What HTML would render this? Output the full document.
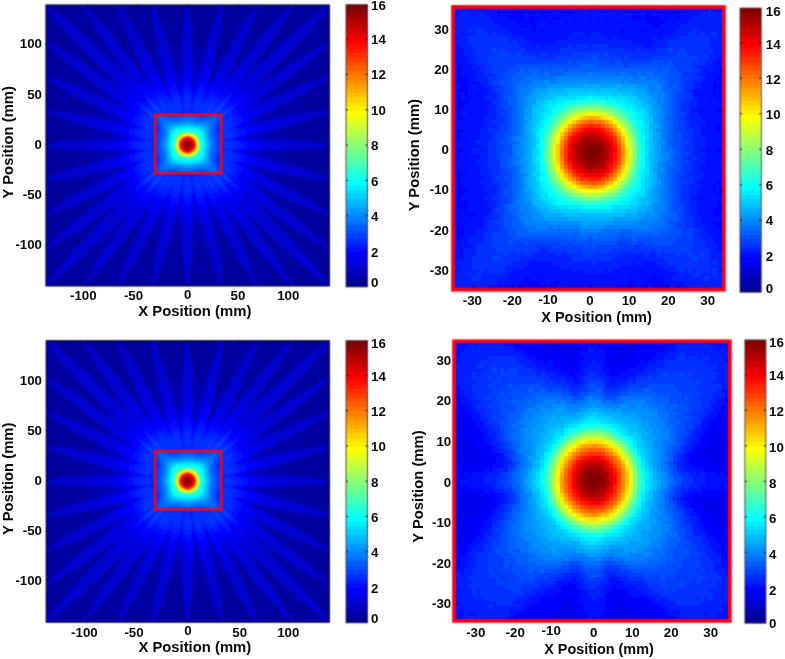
<!DOCTYPE html>
<html lang="en"><head><meta charset="utf-8"><title>Sensitivity maps</title>
<style>html,body{margin:0;padding:0;background:#fff}svg{display:block}text{font-family:"Liberation Sans",Arial,sans-serif;font-weight:bold;fill:#0a0a0a}</style>
</head><body>
<svg width="785" height="659" viewBox="0 0 785 659">
<defs>
<filter id="jet" color-interpolation-filters="sRGB" filterUnits="userSpaceOnUse" x="0" y="0" width="785" height="659"><feComponentTransfer>
<feFuncR type="discrete" tableValues="0 0 0 0 0 0 0 0 0 0 0 0 0 0 0 0 0 0 0 0 0 0 0 0 0.0625 0.125 0.1875 0.25 0.3125 0.375 0.4375 0.5 0.5625 0.625 0.6875 0.75 0.8125 0.875 0.9375 1 1 1 1 1 1 1 1 1 1 1 1 1 1 1 1 1 0.9375 0.875 0.8125 0.75 0.6875 0.625 0.5625 0.5"/>
<feFuncG type="discrete" tableValues="0 0 0 0 0 0 0 0 0.0625 0.125 0.1875 0.25 0.3125 0.375 0.4375 0.5 0.5625 0.625 0.6875 0.75 0.8125 0.875 0.9375 1 1 1 1 1 1 1 1 1 1 1 1 1 1 1 1 1 0.9375 0.875 0.8125 0.75 0.6875 0.625 0.5625 0.5 0.4375 0.375 0.3125 0.25 0.1875 0.125 0.0625 0 0 0 0 0 0 0 0 0"/>
<feFuncB type="discrete" tableValues="0.5625 0.625 0.6875 0.75 0.8125 0.875 0.9375 1 1 1 1 1 1 1 1 1 1 1 1 1 1 1 1 1 0.9375 0.875 0.8125 0.75 0.6875 0.625 0.5625 0.5 0.4375 0.375 0.3125 0.25 0.1875 0.125 0.0625 0 0 0 0 0 0 0 0 0 0 0 0 0 0 0 0 0 0 0 0 0 0 0 0 0"/>
<feFuncA type="linear" slope="0" intercept="1"/>
</feComponentTransfer></filter>
<filter id="jetpx" color-interpolation-filters="sRGB" filterUnits="userSpaceOnUse" x="0" y="0" width="785" height="659">
<feTurbulence type="fractalNoise" baseFrequency="0.7" numOctaves="2" seed="7"/>
<feColorMatrix type="matrix" values="1 0 0 0 0 1 0 0 0 0 1 0 0 0 0 0 0 0 0 1" result="n"/>
<feComposite in="SourceGraphic" in2="n" operator="arithmetic" k1="0" k2="1" k3="0.024" k4="-0.012" result="sn"/>
<feFlood x="2" y="2" width="1" height="1" flood-color="#000"/>
<feComposite width="4" height="4"/>
<feTile result="t"/>
<feComposite in="sn" in2="t" operator="in"/>
<feMorphology operator="dilate" radius="2"/>
<feComponentTransfer>
<feFuncR type="discrete" tableValues="0 0 0 0 0 0 0 0 0 0 0 0 0 0 0 0 0 0 0 0 0 0 0 0 0.0625 0.125 0.1875 0.25 0.3125 0.375 0.4375 0.5 0.5625 0.625 0.6875 0.75 0.8125 0.875 0.9375 1 1 1 1 1 1 1 1 1 1 1 1 1 1 1 1 1 0.9375 0.875 0.8125 0.75 0.6875 0.625 0.5625 0.5"/>
<feFuncG type="discrete" tableValues="0 0 0 0 0 0 0 0 0.0625 0.125 0.1875 0.25 0.3125 0.375 0.4375 0.5 0.5625 0.625 0.6875 0.75 0.8125 0.875 0.9375 1 1 1 1 1 1 1 1 1 1 1 1 1 1 1 1 1 0.9375 0.875 0.8125 0.75 0.6875 0.625 0.5625 0.5 0.4375 0.375 0.3125 0.25 0.1875 0.125 0.0625 0 0 0 0 0 0 0 0 0"/>
<feFuncB type="discrete" tableValues="0.5625 0.625 0.6875 0.75 0.8125 0.875 0.9375 1 1 1 1 1 1 1 1 1 1 1 1 1 1 1 1 1 0.9375 0.875 0.8125 0.75 0.6875 0.625 0.5625 0.5 0.4375 0.375 0.3125 0.25 0.1875 0.125 0.0625 0 0 0 0 0 0 0 0 0 0 0 0 0 0 0 0 0 0 0 0 0 0 0 0 0"/>
<feFuncA type="linear" slope="0" intercept="1"/>
</feComponentTransfer></filter>
<filter id="b1" x="-20%" y="-20%" width="140%" height="140%"><feGaussianBlur stdDeviation="1.2"/></filter>
<filter id="b10" filterUnits="userSpaceOnUse" x="-300" y="-300" width="600" height="600"><feGaussianBlur stdDeviation="11"/></filter>
<filter id="b5" filterUnits="userSpaceOnUse" x="-300" y="-300" width="600" height="600"><feGaussianBlur stdDeviation="5"/></filter>
<linearGradient id="cb" x1="0" y1="1" x2="0" y2="0"><stop offset="0" stop-color="rgb(0,0,136)"/><stop offset=".125" stop-color="rgb(0,0,255)"/><stop offset=".375" stop-color="rgb(0,255,255)"/><stop offset=".625" stop-color="rgb(255,255,0)"/><stop offset=".875" stop-color="rgb(255,0,0)"/><stop offset="1" stop-color="rgb(128,0,0)"/></linearGradient>
<g id="cbar" shape-rendering="crispEdges"><rect x="0" y="63" width="1" height="1.03" fill="rgb(0,0,143)"/><rect x="0" y="62" width="1" height="1.03" fill="rgb(0,0,159)"/><rect x="0" y="61" width="1" height="1.03" fill="rgb(0,0,175)"/><rect x="0" y="60" width="1" height="1.03" fill="rgb(0,0,191)"/><rect x="0" y="59" width="1" height="1.03" fill="rgb(0,0,207)"/><rect x="0" y="58" width="1" height="1.03" fill="rgb(0,0,223)"/><rect x="0" y="57" width="1" height="1.03" fill="rgb(0,0,239)"/><rect x="0" y="56" width="1" height="1.03" fill="rgb(0,0,255)"/><rect x="0" y="55" width="1" height="1.03" fill="rgb(0,16,255)"/><rect x="0" y="54" width="1" height="1.03" fill="rgb(0,32,255)"/><rect x="0" y="53" width="1" height="1.03" fill="rgb(0,48,255)"/><rect x="0" y="52" width="1" height="1.03" fill="rgb(0,64,255)"/><rect x="0" y="51" width="1" height="1.03" fill="rgb(0,80,255)"/><rect x="0" y="50" width="1" height="1.03" fill="rgb(0,96,255)"/><rect x="0" y="49" width="1" height="1.03" fill="rgb(0,112,255)"/><rect x="0" y="48" width="1" height="1.03" fill="rgb(0,128,255)"/><rect x="0" y="47" width="1" height="1.03" fill="rgb(0,143,255)"/><rect x="0" y="46" width="1" height="1.03" fill="rgb(0,159,255)"/><rect x="0" y="45" width="1" height="1.03" fill="rgb(0,175,255)"/><rect x="0" y="44" width="1" height="1.03" fill="rgb(0,191,255)"/><rect x="0" y="43" width="1" height="1.03" fill="rgb(0,207,255)"/><rect x="0" y="42" width="1" height="1.03" fill="rgb(0,223,255)"/><rect x="0" y="41" width="1" height="1.03" fill="rgb(0,239,255)"/><rect x="0" y="40" width="1" height="1.03" fill="rgb(0,255,255)"/><rect x="0" y="39" width="1" height="1.03" fill="rgb(16,255,239)"/><rect x="0" y="38" width="1" height="1.03" fill="rgb(32,255,223)"/><rect x="0" y="37" width="1" height="1.03" fill="rgb(48,255,207)"/><rect x="0" y="36" width="1" height="1.03" fill="rgb(64,255,191)"/><rect x="0" y="35" width="1" height="1.03" fill="rgb(80,255,175)"/><rect x="0" y="34" width="1" height="1.03" fill="rgb(96,255,159)"/><rect x="0" y="33" width="1" height="1.03" fill="rgb(112,255,143)"/><rect x="0" y="32" width="1" height="1.03" fill="rgb(128,255,128)"/><rect x="0" y="31" width="1" height="1.03" fill="rgb(143,255,112)"/><rect x="0" y="30" width="1" height="1.03" fill="rgb(159,255,96)"/><rect x="0" y="29" width="1" height="1.03" fill="rgb(175,255,80)"/><rect x="0" y="28" width="1" height="1.03" fill="rgb(191,255,64)"/><rect x="0" y="27" width="1" height="1.03" fill="rgb(207,255,48)"/><rect x="0" y="26" width="1" height="1.03" fill="rgb(223,255,32)"/><rect x="0" y="25" width="1" height="1.03" fill="rgb(239,255,16)"/><rect x="0" y="24" width="1" height="1.03" fill="rgb(255,255,0)"/><rect x="0" y="23" width="1" height="1.03" fill="rgb(255,239,0)"/><rect x="0" y="22" width="1" height="1.03" fill="rgb(255,223,0)"/><rect x="0" y="21" width="1" height="1.03" fill="rgb(255,207,0)"/><rect x="0" y="20" width="1" height="1.03" fill="rgb(255,191,0)"/><rect x="0" y="19" width="1" height="1.03" fill="rgb(255,175,0)"/><rect x="0" y="18" width="1" height="1.03" fill="rgb(255,159,0)"/><rect x="0" y="17" width="1" height="1.03" fill="rgb(255,143,0)"/><rect x="0" y="16" width="1" height="1.03" fill="rgb(255,128,0)"/><rect x="0" y="15" width="1" height="1.03" fill="rgb(255,112,0)"/><rect x="0" y="14" width="1" height="1.03" fill="rgb(255,96,0)"/><rect x="0" y="13" width="1" height="1.03" fill="rgb(255,80,0)"/><rect x="0" y="12" width="1" height="1.03" fill="rgb(255,64,0)"/><rect x="0" y="11" width="1" height="1.03" fill="rgb(255,48,0)"/><rect x="0" y="10" width="1" height="1.03" fill="rgb(255,32,0)"/><rect x="0" y="9" width="1" height="1.03" fill="rgb(255,16,0)"/><rect x="0" y="8" width="1" height="1.03" fill="rgb(255,0,0)"/><rect x="0" y="7" width="1" height="1.03" fill="rgb(239,0,0)"/><rect x="0" y="6" width="1" height="1.03" fill="rgb(223,0,0)"/><rect x="0" y="5" width="1" height="1.03" fill="rgb(207,0,0)"/><rect x="0" y="4" width="1" height="1.03" fill="rgb(191,0,0)"/><rect x="0" y="3" width="1" height="1.03" fill="rgb(175,0,0)"/><rect x="0" y="2" width="1" height="1.03" fill="rgb(159,0,0)"/><rect x="0" y="1" width="1" height="1.03" fill="rgb(143,0,0)"/><rect x="0" y="0" width="1" height="1.03" fill="rgb(128,0,0)"/></g>
<radialGradient id="gA" gradientUnits="userSpaceOnUse" cx="0" cy="0" r="200" gradientTransform="scale(1.035,1.09)"><stop offset="0.0000" stop-color="rgb(255,255,255)"/><stop offset="0.0400" stop-color="rgb(250,250,250)"/><stop offset="0.0700" stop-color="rgb(241,241,241)"/><stop offset="0.1025" stop-color="rgb(225,225,225)"/><stop offset="0.1250" stop-color="rgb(209,209,209)"/><stop offset="0.1450" stop-color="rgb(191,191,191)"/><stop offset="0.1600" stop-color="rgb(175,175,175)"/><stop offset="0.1725" stop-color="rgb(159,159,159)"/><stop offset="0.1875" stop-color="rgb(143,143,143)"/><stop offset="0.2025" stop-color="rgb(128,128,128)"/><stop offset="0.2200" stop-color="rgb(112,112,112)"/><stop offset="0.2400" stop-color="rgb(96,96,96)"/><stop offset="0.2600" stop-color="rgb(86,86,86)"/><stop offset="0.2900" stop-color="rgb(76,76,76)"/><stop offset="0.3300" stop-color="rgb(66,66,66)"/><stop offset="0.3900" stop-color="rgb(53,53,53)"/><stop offset="0.4800" stop-color="rgb(41,41,41)"/><stop offset="0.5600" stop-color="rgb(34,34,34)"/><stop offset="0.6750" stop-color="rgb(31,31,31)"/><stop offset="1.0000" stop-color="rgb(29,29,29)"/></radialGradient>
<radialGradient id="gB" gradientUnits="userSpaceOnUse" cx="0" cy="0" r="200" gradientTransform="scale(1.0,1.11)"><stop offset="0.0000" stop-color="rgb(255,255,255)"/><stop offset="0.0300" stop-color="rgb(252,252,252)"/><stop offset="0.0500" stop-color="rgb(247,247,247)"/><stop offset="0.0725" stop-color="rgb(239,239,239)"/><stop offset="0.1000" stop-color="rgb(223,223,223)"/><stop offset="0.1225" stop-color="rgb(207,207,207)"/><stop offset="0.1450" stop-color="rgb(191,191,191)"/><stop offset="0.1625" stop-color="rgb(175,175,175)"/><stop offset="0.1775" stop-color="rgb(159,159,159)"/><stop offset="0.1925" stop-color="rgb(143,143,143)"/><stop offset="0.2075" stop-color="rgb(128,128,128)"/><stop offset="0.2250" stop-color="rgb(112,112,112)"/><stop offset="0.2435" stop-color="rgb(96,96,96)"/><stop offset="0.2600" stop-color="rgb(87,87,87)"/><stop offset="0.2850" stop-color="rgb(78,78,78)"/><stop offset="0.3350" stop-color="rgb(64,64,64)"/><stop offset="0.3850" stop-color="rgb(52,52,52)"/><stop offset="0.4350" stop-color="rgb(42,42,42)"/><stop offset="0.4850" stop-color="rgb(35,35,35)"/><stop offset="0.5400" stop-color="rgb(31,31,31)"/><stop offset="0.6500" stop-color="rgb(27,27,27)"/><stop offset="1.0000" stop-color="rgb(25,25,25)"/></radialGradient>
<radialGradient id="gL" gradientUnits="userSpaceOnUse" cx="0" cy="0" r="210"><stop offset="0.0000" stop-color="rgb(37,37,37)"/><stop offset="0.1905" stop-color="rgb(33,33,33)"/><stop offset="0.2286" stop-color="rgb(30,30,30)"/><stop offset="0.2619" stop-color="rgb(24,24,24)"/><stop offset="0.2952" stop-color="rgb(18,18,18)"/><stop offset="0.3429" stop-color="rgb(13,13,13)"/><stop offset="0.4048" stop-color="rgb(9,9,9)"/><stop offset="0.4762" stop-color="rgb(7,7,7)"/><stop offset="0.5476" stop-color="rgb(6,6,6)"/><stop offset="0.7143" stop-color="rgb(4,4,4)"/><stop offset="1.0000" stop-color="rgb(4,4,4)"/></radialGradient>
<radialGradient id="gR" gradientUnits="userSpaceOnUse" cx="0" cy="0" r="200"><stop offset="0" stop-color="#fff" stop-opacity="0"/><stop offset=".2" stop-color="#fff" stop-opacity="0.035"/><stop offset=".275" stop-color="#fff" stop-opacity="0.05"/><stop offset=".35" stop-color="#fff" stop-opacity="0.052"/><stop offset=".5" stop-color="#fff" stop-opacity="0.05"/><stop offset="1" stop-color="#fff" stop-opacity="0.046"/></radialGradient>
<radialGradient id="gArm" gradientUnits="userSpaceOnUse" cx="0" cy="0" r="270"><stop offset="0" stop-color="#fff"/><stop offset=".37" stop-color="#fff"/><stop offset=".55" stop-color="#fff" stop-opacity=".8"/><stop offset=".72" stop-color="#fff" stop-opacity=".4"/><stop offset="1" stop-color="#fff" stop-opacity=".3"/></radialGradient>
<radialGradient id="gH" gradientUnits="userSpaceOnUse" cx="0" cy="0" r="50"><stop offset="0.0000" stop-color="rgb(255,255,255)"/><stop offset="0.0500" stop-color="rgb(249,249,249)"/><stop offset="0.0840" stop-color="rgb(239,239,239)"/><stop offset="0.1320" stop-color="rgb(223,223,223)"/><stop offset="0.1520" stop-color="rgb(207,207,207)"/><stop offset="0.1680" stop-color="rgb(191,191,191)"/><stop offset="0.1840" stop-color="rgb(175,175,175)"/><stop offset="0.2000" stop-color="rgb(159,159,159)"/><stop offset="0.2200" stop-color="rgb(143,143,143)"/><stop offset="0.2400" stop-color="rgb(128,128,128)"/><stop offset="0.2600" stop-color="rgb(112,112,112)"/><stop offset="0.2860" stop-color="rgb(99,99,99)"/><stop offset="0.3300" stop-color="rgb(91,91,91)"/><stop offset="0.3700" stop-color="rgb(83,83,83)"/><stop offset="0.4200" stop-color="rgb(72,72,72)"/><stop offset="0.4800" stop-color="rgb(61,61,61)"/><stop offset="0.5600" stop-color="rgb(51,51,51)"/><stop offset="0.6600" stop-color="rgb(43,43,43)"/><stop offset="0.8000" stop-color="rgb(39,39,39)"/><stop offset="1.0000" stop-color="rgb(37,37,37)"/></radialGradient>
<filter id="b3" filterUnits="userSpaceOnUse" x="-80" y="-80" width="160" height="160"><feGaussianBlur stdDeviation="3"/></filter>
<g id="wH"><rect x="-60" y="-60" width="120" height="120" fill="url(#gH)"/><g filter="url(#b3)" stroke="#fff" stroke-width="11" opacity="0.07"><line x1="9" y1="9" x2="50" y2="50"/><line x1="-9" y1="9" x2="-50" y2="50"/><line x1="9" y1="-9" x2="50" y2="-50"/><line x1="-9" y1="-9" x2="-50" y2="-50"/></g></g>
<g id="zA">
<rect x="-160" y="-160" width="320" height="320" fill="url(#gA)"/>
<g filter="url(#b10)" stroke="url(#gArm)" stroke-width="46" stroke-linecap="butt" opacity="0.068">
<line x1="30" y1="30" x2="190" y2="196"/>
<line x1="30" y1="-30" x2="190" y2="-196"/>
<line x1="-30" y1="30" x2="-190" y2="196"/>
<line x1="-30" y1="-30" x2="-190" y2="-196"/>
</g>
</g>
<g id="zB">
<rect x="-160" y="-160" width="320" height="320" fill="url(#gB)"/>
<g filter="url(#b10)" stroke="url(#gArm)" stroke-width="72" stroke-linecap="butt" opacity="0.085">
<line x1="50" y1="50" x2="190" y2="196"/>
<line x1="50" y1="-50" x2="190" y2="-196"/>
<line x1="-50" y1="50" x2="-190" y2="196"/>
<line x1="-50" y1="-50" x2="-190" y2="-196"/>
</g>
<g filter="url(#b5)" stroke="#000" stroke-width="15" opacity="0.12">
<line x1="78.5" y1="-15.3" x2="225.8" y2="-43.9"/>
<line x1="78.5" y1="15.3" x2="225.8" y2="43.9"/>
<line x1="15.3" y1="78.5" x2="43.9" y2="225.8"/>
<line x1="-15.3" y1="78.5" x2="-43.9" y2="225.8"/>
<line x1="-78.5" y1="15.3" x2="-225.8" y2="43.9"/>
<line x1="-78.5" y1="-15.3" x2="-225.8" y2="-43.9"/>
<line x1="-15.3" y1="-78.5" x2="-43.9" y2="-225.8"/>
<line x1="15.3" y1="-78.5" x2="43.9" y2="-225.8"/>
</g>
<g filter="url(#b5)" stroke="#fff" stroke-width="20" opacity="0.02">
<line x1="45.0" y1="0.0" x2="230.0" y2="0.0"/>
<line x1="0.0" y1="45.0" x2="0.0" y2="230.0"/>
<line x1="-45.0" y1="0.0" x2="-230.0" y2="0.0"/>
<line x1="-0.0" y1="-45.0" x2="-0.0" y2="-230.0"/>
</g>
</g>
</defs>
<filter id="soft" color-interpolation-filters="sRGB" filterUnits="userSpaceOnUse" x="0" y="0" width="785" height="659"><feConvolveMatrix order="3" kernelMatrix="0.04 0.1 0.04 0.1 0.44 0.1 0.04 0.1 0.04" edgeMode="duplicate" preserveAlpha="true"/></filter>
<g filter="url(#soft)">
<rect x="-5" y="-5" width="795" height="669" fill="#fff"/>
<clipPath id="c45_4"><rect x="45.7" y="4.7" width="284.0" height="281.5"/></clipPath>
<clipPath id="c45_4b"><rect x="155.1" y="114.7" width="66.20000000000002" height="58.60000000000001"/></clipPath>
<g clip-path="url(#c45_4)"><g filter="url(#jet)">
<rect x="43.7" y="2.7" width="288.0" height="285.5" fill="#000"/>
<g transform="translate(187.5,144.8)"><rect x="-200" y="-200" width="400" height="400" fill="url(#gL)"/>
<g fill="url(#gR)" filter="url(#b1)"><polygon points="0.0,0.0 -25.1,-42.3 -47.3,-73.6 -78.9,-115.4 -105.2,-143.7 -107.3,-142.1 -87.8,-108.8 -56.9,-66.5 -33.3,-36.2"/><polygon points="0.0,0.0 -33.3,36.6 -56.9,67.1 -87.8,109.8 -107.3,143.4 -105.2,145.0 -78.9,116.4 -47.2,74.3 -25.0,42.6"/><polygon points="0.0,0.0 -36.7,-32.9 -67.4,-56.3 -110.2,-86.7 -143.9,-105.9 -145.4,-103.8 -116.7,-77.8 -74.4,-46.5 -42.7,-24.6"/><polygon points="0.0,0.0 42.8,-24.6 74.6,-46.5 117.0,-77.8 145.8,-103.8 144.3,-105.9 110.5,-86.7 67.6,-56.3 36.8,-32.9"/><polygon points="0.0,0.0 -15.2,-41.3 -29.7,-72.5 -50.9,-114.3 -69.7,-143.4 -71.9,-142.4 -60.1,-109.8 -39.7,-67.6 -23.7,-37.1"/><polygon points="0.0,0.0 -23.7,37.5 -39.7,68.2 -60.1,110.9 -71.9,143.7 -69.7,144.8 -50.9,115.4 -29.7,73.2 -15.2,41.7"/><polygon points="0.0,0.0 -37.6,-23.4 -68.5,-39.2 -111.2,-59.3 -144.1,-70.8 -145.2,-68.6 -115.7,-50.0 -73.3,-29.1 -41.8,-14.9"/><polygon points="0.0,0.0 41.9,-14.8 73.5,-29.1 116.0,-50.0 145.6,-68.6 144.5,-70.8 111.5,-59.3 68.7,-39.2 37.8,-23.4"/><polygon points="0.0,0.0 -5.4,-40.3 -12.2,-71.3 -23.0,-113.2 -34.2,-143.2 -36.4,-142.6 -32.4,-110.9 -22.4,-68.8 -14.0,-38.2"/><polygon points="0.0,0.0 -14.0,38.5 -22.4,69.4 -32.4,112.0 -36.4,144.0 -34.2,144.5 -22.9,114.3 -12.2,72.0 -5.3,40.7"/><polygon points="0.0,0.0 -38.7,-13.8 -69.7,-22.1 -112.3,-31.8 -144.4,-35.6 -144.9,-33.4 -114.6,-22.3 -72.1,-11.8 -40.7,-5.1"/><polygon points="0.0,0.0 40.9,-5.1 72.3,-11.8 114.9,-22.3 145.3,-33.4 144.8,-35.6 112.6,-31.8 69.9,-22.1 38.8,-13.9"/><polygon points="0.0,0.0 4.4,-39.2 5.2,-70.0 4.9,-112.1 1.3,-142.9 -0.9,-142.9 -4.6,-112.1 -5.0,-70.1 -4.3,-39.2"/><polygon points="0.0,0.0 -4.3,39.6 -5.1,70.7 -4.6,113.1 -0.9,144.2 1.3,144.2 4.9,113.1 5.3,70.7 4.5,39.6"/><polygon points="0.0,0.0 -39.7,-4.2 -70.9,-4.9 -113.5,-4.3 -144.6,-0.5 -144.6,1.8 -113.4,5.3 -70.9,5.5 -39.7,4.6"/><polygon points="0.0,0.0 39.8,4.6 71.1,5.5 113.7,5.3 145.0,1.8 145.0,-0.5 113.8,-4.3 71.1,-4.9 39.8,-4.2"/><polygon points="0.0,0.0 14.1,-38.1 22.6,-68.8 32.7,-110.9 36.8,-142.6 34.6,-143.2 23.3,-113.3 12.4,-71.3 5.5,-40.3"/><polygon points="0.0,0.0 5.4,40.7 12.4,72.0 23.3,114.3 34.6,144.5 36.8,143.9 32.7,112.0 22.6,69.4 14.2,38.5"/><polygon points="0.0,0.0 -40.8,5.5 -72.2,12.4 -114.6,23.4 -144.9,34.7 -144.4,37.0 -112.3,32.8 -69.6,22.7 -38.6,14.2"/><polygon points="0.0,0.0 38.7,14.2 69.8,22.7 112.6,32.8 144.8,37.0 145.3,34.7 114.9,23.4 72.4,12.4 40.9,5.5"/><polygon points="0.0,0.0 23.8,-37.1 39.9,-67.6 60.4,-109.8 72.3,-142.4 70.1,-143.4 51.2,-114.4 29.9,-72.5 15.3,-41.3"/><polygon points="0.0,0.0 15.3,41.7 29.9,73.2 51.2,115.4 70.1,144.8 72.3,143.7 60.4,110.8 39.9,68.2 23.8,37.5"/><polygon points="0.0,0.0 -41.8,15.2 -73.4,29.8 -115.7,51.1 -145.2,69.9 -144.1,72.1 -111.2,60.3 -68.4,39.8 -37.6,23.8"/><polygon points="0.0,0.0 37.7,23.8 68.6,39.8 111.5,60.3 144.5,72.1 145.6,69.9 116.0,51.1 73.6,29.8 41.9,15.2"/><polygon points="0.0,0.0 33.4,-36.2 57.1,-66.5 88.1,-108.8 107.7,-142.1 105.6,-143.7 79.2,-115.4 47.5,-73.6 25.2,-42.3"/><polygon points="0.0,0.0 25.2,42.6 47.4,74.3 79.2,116.4 105.6,145.0 107.7,143.4 88.1,109.8 57.1,67.1 33.4,36.5"/><polygon points="0.0,0.0 -42.7,25.0 -74.5,47.2 -116.7,78.8 -145.4,105.1 -143.9,107.3 -110.2,87.8 -67.3,56.9 -36.7,33.3"/><polygon points="0.0,0.0 36.8,33.3 67.5,56.9 110.5,87.8 144.3,107.3 145.8,105.1 117.0,78.8 74.7,47.2 42.8,25.0"/><polygon points="0.0,0.0 -35.8,-43.2 -66.3,-74.7 -109.2,-116.4 -143.6,-143.9 -145.7,-141.9 -117.7,-107.8 -75.5,-65.4 -43.6,-35.2"/><polygon points="0.0,0.0 43.7,-35.2 75.7,-65.4 118.0,-107.8 146.1,-141.9 144.0,-143.9 109.5,-116.4 66.5,-74.7 35.9,-43.2"/><polygon points="0.0,0.0 -43.7,35.6 -75.6,66.0 -117.7,108.8 -145.7,143.2 -143.6,145.3 -109.1,117.4 -66.2,75.4 -35.7,43.6"/><polygon points="0.0,0.0 35.9,43.6 66.4,75.4 109.5,117.4 144.0,145.3 146.1,143.2 118.0,108.8 75.8,66.0 43.8,35.6"/></g></g>
<g clip-path="url(#c45_4b)"><use href="#wH" transform="translate(187.5,144.8)"/></g>
</g></g>
<rect x="46.0" y="5.0" width="283.4" height="280.9" fill="none" stroke="#15151f" stroke-width="1"/>
<rect x="155.1" y="114.7" width="66.20000000000002" height="58.60000000000001" fill="none" stroke="#ff0010" stroke-width="2.6"/>
<path d="M87.3 286.2v-2M87.3 4.7v2M137.6 286.2v-2M137.6 4.7v2M187.8 286.2v-2M187.8 4.7v2M238.1 286.2v-2M238.1 4.7v2M288.4 286.2v-2M288.4 4.7v2M45.7 44.3h2M329.7 44.3h-2M45.7 94.6h2M329.7 94.6h-2M45.7 144.7h2M329.7 144.7h-2M45.7 194.7h2M329.7 194.7h-2M45.7 244.7h2M329.7 244.7h-2" stroke="#000" stroke-width="1" fill="none"/>
<use href="#cbar" transform="translate(346,4.6) scale(21.50,4.41094)"/>
<rect x="346" y="4.6" width="21.50" height="282.30" fill="none" stroke="#4a4040" stroke-width="0.9"/>
<path d="M346 251.0h2M367.5 251.0h-2M346 215.7h2M367.5 215.7h-2M346 180.4h2M367.5 180.4h-2M346 145.1h2M367.5 145.1h-2M346 109.8h2M367.5 109.8h-2M346 74.5h2M367.5 74.5h-2M346 39.2h2M367.5 39.2h-2" stroke="#111" stroke-width="1" fill="none"/>
<clipPath id="c45_340"><rect x="45.9" y="340.4" width="283.8" height="282.1"/></clipPath>
<clipPath id="c45_340b"><rect x="155.1" y="450.9" width="66.20000000000002" height="58.60000000000002"/></clipPath>
<g clip-path="url(#c45_340)"><g filter="url(#jet)">
<rect x="43.9" y="338.4" width="287.8" height="286.1" fill="#000"/>
<g transform="translate(187.5,481.0)"><rect x="-200" y="-200" width="400" height="400" fill="url(#gL)"/>
<g fill="url(#gR)" filter="url(#b1)"><polygon points="0.0,0.0 -25.0,-42.4 -47.2,-73.9 -78.8,-115.8 -105.0,-144.2 -107.1,-142.6 -87.6,-109.2 -56.8,-66.7 -33.2,-36.3"/><polygon points="0.0,0.0 -33.2,36.6 -56.9,67.2 -87.7,109.9 -107.1,143.5 -105.0,145.1 -78.7,116.5 -47.1,74.3 -25.0,42.7"/><polygon points="0.0,0.0 -36.6,-33.0 -67.3,-56.5 -110.0,-87.1 -143.7,-106.4 -145.2,-104.2 -116.5,-78.1 -74.3,-46.7 -42.7,-24.8"/><polygon points="0.0,0.0 42.8,-24.8 74.6,-46.7 117.0,-78.1 145.8,-104.2 144.3,-106.4 110.5,-87.1 67.6,-56.5 36.8,-33.0"/><polygon points="0.0,0.0 -15.1,-41.5 -29.6,-72.8 -50.8,-114.7 -69.5,-144.0 -71.7,-142.9 -60.0,-110.2 -39.6,-67.8 -23.6,-37.3"/><polygon points="0.0,0.0 -23.6,37.5 -39.6,68.3 -60.0,110.9 -71.7,143.8 -69.5,144.9 -50.8,115.5 -29.6,73.2 -15.1,41.7"/><polygon points="0.0,0.0 -37.6,-23.5 -68.4,-39.4 -111.0,-59.6 -143.9,-71.1 -145.0,-68.9 -115.5,-50.3 -73.2,-29.3 -41.7,-15.0"/><polygon points="0.0,0.0 41.9,-14.9 73.5,-29.3 116.0,-50.3 145.6,-68.9 144.5,-71.1 111.5,-59.6 68.7,-39.4 37.7,-23.5"/><polygon points="0.0,0.0 -5.3,-40.4 -12.1,-71.6 -22.9,-113.6 -34.0,-143.7 -36.3,-143.1 -32.3,-111.3 -22.3,-69.0 -14.0,-38.3"/><polygon points="0.0,0.0 -14.0,38.6 -22.4,69.5 -32.3,112.0 -36.3,144.1 -34.0,144.6 -22.8,114.4 -12.1,72.0 -5.3,40.7"/><polygon points="0.0,0.0 -38.6,-13.9 -69.6,-22.2 -112.1,-32.0 -144.2,-35.9 -144.7,-33.7 -114.4,-22.6 -72.0,-11.9 -40.7,-5.2"/><polygon points="0.0,0.0 40.9,-5.2 72.3,-11.9 114.9,-22.5 145.3,-33.7 144.8,-35.9 112.6,-32.0 69.9,-22.2 38.8,-13.9"/><polygon points="0.0,0.0 4.5,-39.4 5.3,-70.3 5.0,-112.5 1.4,-143.4 -0.8,-143.4 -4.5,-112.5 -5.0,-70.3 -4.3,-39.4"/><polygon points="0.0,0.0 -4.3,39.6 -5.0,70.8 -4.5,113.2 -0.8,144.3 1.4,144.3 5.0,113.2 5.3,70.7 4.5,39.6"/><polygon points="0.0,0.0 -39.7,-4.3 -70.8,-5.0 -113.3,-4.4 -144.4,-0.7 -144.4,1.6 -113.3,5.1 -70.8,5.4 -39.6,4.5"/><polygon points="0.0,0.0 39.8,4.5 71.1,5.4 113.7,5.1 145.0,1.6 145.0,-0.7 113.8,-4.4 71.1,-5.0 39.8,-4.3"/><polygon points="0.0,0.0 14.2,-38.3 22.6,-69.0 32.8,-111.3 36.9,-143.1 34.6,-143.7 23.4,-113.7 12.4,-71.6 5.5,-40.5"/><polygon points="0.0,0.0 5.5,40.7 12.4,72.0 23.3,114.4 34.6,144.6 36.9,144.1 32.8,112.0 22.7,69.5 14.2,38.5"/><polygon points="0.0,0.0 -40.7,5.4 -72.1,12.4 -114.4,23.3 -144.7,34.6 -144.2,36.8 -112.1,32.7 -69.5,22.6 -38.6,14.2"/><polygon points="0.0,0.0 38.7,14.2 69.8,22.7 112.6,32.7 144.8,36.8 145.3,34.6 114.9,23.3 72.4,12.4 40.9,5.4"/><polygon points="0.0,0.0 23.8,-37.3 39.9,-67.8 60.5,-110.2 72.3,-142.9 70.1,-144.0 51.3,-114.8 29.9,-72.8 15.3,-41.5"/><polygon points="0.0,0.0 15.3,41.7 29.9,73.2 51.3,115.5 70.1,144.9 72.3,143.8 60.5,110.9 39.9,68.3 23.8,37.5"/><polygon points="0.0,0.0 -41.7,15.2 -73.3,29.8 -115.5,51.0 -145.0,69.9 -143.9,72.1 -111.0,60.3 -68.3,39.8 -37.6,23.7"/><polygon points="0.0,0.0 37.7,23.8 68.6,39.8 111.5,60.3 144.5,72.1 145.6,69.8 116.0,51.0 73.6,29.7 41.9,15.2"/><polygon points="0.0,0.0 33.4,-36.3 57.1,-66.7 88.1,-109.2 107.8,-142.6 105.6,-144.2 79.2,-115.8 47.5,-73.9 25.2,-42.4"/><polygon points="0.0,0.0 25.2,42.7 47.4,74.3 79.2,116.5 105.6,145.1 107.8,143.5 88.1,109.9 57.2,67.2 33.4,36.6"/><polygon points="0.0,0.0 -42.7,25.0 -74.4,47.2 -116.6,78.8 -145.2,105.1 -143.6,107.3 -110.0,87.8 -67.2,56.9 -36.6,33.3"/><polygon points="0.0,0.0 36.8,33.3 67.5,56.9 110.5,87.8 144.3,107.3 145.8,105.1 117.0,78.8 74.7,47.2 42.8,25.0"/><polygon points="0.0,0.0 -35.7,-43.3 -66.2,-75.0 -109.0,-116.8 -143.4,-144.4 -145.5,-142.4 -117.6,-108.2 -75.4,-65.6 -43.6,-35.4"/><polygon points="0.0,0.0 43.8,-35.4 75.7,-65.6 118.0,-108.2 146.1,-142.4 144.0,-144.4 109.5,-116.8 66.5,-75.0 35.9,-43.4"/><polygon points="0.0,0.0 -43.6,35.6 -75.5,66.1 -117.6,108.9 -145.5,143.3 -143.4,145.4 -109.0,117.5 -66.1,75.4 -35.7,43.6"/><polygon points="0.0,0.0 35.9,43.6 66.4,75.4 109.5,117.5 144.0,145.4 146.1,143.3 118.1,108.9 75.8,66.1 43.8,35.6"/></g></g>
<g clip-path="url(#c45_340b)"><use href="#wH" transform="translate(187.5,481.0)"/></g>
</g></g>
<rect x="46.199999999999996" y="340.7" width="283.2" height="281.5" fill="none" stroke="#15151f" stroke-width="1"/>
<rect x="155.1" y="450.9" width="66.20000000000002" height="58.60000000000002" fill="none" stroke="#ff0010" stroke-width="2.6"/>
<path d="M87.3 622.5v-2M87.3 340.4v2M137.6 622.5v-2M137.6 340.4v2M187.8 622.5v-2M187.8 340.4v2M238.1 622.5v-2M238.1 340.4v2M288.4 622.5v-2M288.4 340.4v2M45.9 380.9h2M329.7 380.9h-2M45.9 431.0h2M329.7 431.0h-2M45.9 481.0h2M329.7 481.0h-2M45.9 531.0h2M329.7 531.0h-2M45.9 581.1h2M329.7 581.1h-2" stroke="#000" stroke-width="1" fill="none"/>
<use href="#cbar" transform="translate(346,340.6) scale(21.50,4.40937)"/>
<rect x="346" y="340.6" width="21.50" height="282.20" fill="none" stroke="#4a4040" stroke-width="0.9"/>
<path d="M346 586.9h2M367.5 586.9h-2M346 551.7h2M367.5 551.7h-2M346 516.5h2M367.5 516.5h-2M346 481.2h2M367.5 481.2h-2M346 446.0h2M367.5 446.0h-2M346 410.7h2M367.5 410.7h-2M346 375.5h2M367.5 375.5h-2" stroke="#111" stroke-width="1" fill="none"/>
<clipPath id="z451_5"><rect x="452.2" y="6.1" width="272.59999999999997" height="284.5"/></clipPath>
<g clip-path="url(#z451_5)"><g filter="url(#jetpx)">
<rect x="447.2" y="1.0999999999999996" width="282.59999999999997" height="294.5" fill="#000"/>
<use href="#zA" transform="translate(592.0,153.0)"/>
</g></g>
<rect x="453.09999999999997" y="7.0" width="270.79999999999995" height="282.7" fill="none" stroke="#fb0012" stroke-width="3.8"/>
<path d="M473.9 9.2v2M473.9 287.8v-2M512.7 9.2v2M512.7 287.8v-2M551.5 9.2v2M551.5 287.8v-2M590.3 9.2v2M590.3 287.8v-2M629.1 9.2v2M629.1 287.8v-2M667.9 9.2v2M667.9 287.8v-2M706.7 9.2v2M706.7 287.8v-2M455 270.5h2M722.2 270.5h-2M455 230.3h2M722.2 230.3h-2M455 190.1h2M722.2 190.1h-2M455 149.9h2M722.2 149.9h-2M455 109.7h2M722.2 109.7h-2M455 69.5h2M722.2 69.5h-2M455 29.3h2M722.2 29.3h-2" stroke="#001" stroke-width="1" fill="none" opacity=".8"/>
<use href="#cbar" transform="translate(740,8.1) scale(21.30,4.44062)"/>
<rect x="740" y="8.1" width="21.30" height="284.20" fill="none" stroke="#4a4040" stroke-width="0.9"/>
<path d="M740 255.8h2M761.3 255.8h-2M740 220.3h2M761.3 220.3h-2M740 184.8h2M761.3 184.8h-2M740 149.3h2M761.3 149.3h-2M740 113.8h2M761.3 113.8h-2M740 78.3h2M761.3 78.3h-2M740 42.8h2M761.3 42.8h-2" stroke="#111" stroke-width="1" fill="none"/>
<clipPath id="z452_339"><rect x="453.2" y="340.4" width="277.55" height="281.4"/></clipPath>
<g clip-path="url(#z452_339)"><g filter="url(#jetpx)">
<rect x="448.2" y="335.4" width="287.55" height="291.4" fill="#000"/>
<use href="#zB" transform="translate(593.7,480.4)"/>
</g></g>
<rect x="454.09999999999997" y="341.29999999999995" width="275.75" height="279.59999999999997" fill="none" stroke="#fb0012" stroke-width="3.8"/>
<path d="M476.8 343.6v2M476.8 619.2v-2M515.8 343.6v2M515.8 619.2v-2M554.8 343.6v2M554.8 619.2v-2M593.8 343.6v2M593.8 619.2v-2M632.8 343.6v2M632.8 619.2v-2M671.8 343.6v2M671.8 619.2v-2M710.8 343.6v2M710.8 619.2v-2M456.3 604.2h2M728.3 604.2h-2M456.3 563.6h2M728.3 563.6h-2M456.3 523.0h2M728.3 523.0h-2M456.3 482.4h2M728.3 482.4h-2M456.3 441.8h2M728.3 441.8h-2M456.3 401.2h2M728.3 401.2h-2M456.3 360.6h2M728.3 360.6h-2" stroke="#001" stroke-width="1" fill="none" opacity=".8"/>
<use href="#cbar" transform="translate(744.9,339.9) scale(21.00,4.42812)"/>
<rect x="744.9" y="339.9" width="21.00" height="283.40" fill="none" stroke="#4a4040" stroke-width="0.9"/>
<path d="M744.9 587.8h2M765.9 587.8h-2M744.9 552.3h2M765.9 552.3h-2M744.9 516.8h2M765.9 516.8h-2M744.9 481.3h2M765.9 481.3h-2M744.9 445.8h2M765.9 445.8h-2M744.9 410.3h2M765.9 410.3h-2M744.9 374.8h2M765.9 374.8h-2" stroke="#111" stroke-width="1" fill="none"/>
</g>
<text x="42" y="48.4" font-size="13.3" text-anchor="end">100</text>
<text x="42" y="98.69999999999999" font-size="13.3" text-anchor="end">50</text>
<text x="42" y="148.79999999999998" font-size="13.3" text-anchor="end">0</text>
<text x="42" y="198.79999999999998" font-size="13.3" text-anchor="end">-50</text>
<text x="42" y="248.79999999999998" font-size="13.3" text-anchor="end">-100</text>
<text x="83.3" y="299.7" font-size="13.3" text-anchor="middle">-100</text>
<text x="133.5" y="299.7" font-size="13.3" text-anchor="middle">-50</text>
<text x="187.75" y="298.7" font-size="13.3" text-anchor="middle">0</text>
<text x="238" y="299.7" font-size="13.3" text-anchor="middle">50</text>
<text x="288.3" y="299.7" font-size="13.3" text-anchor="middle">100</text>
<text x="194.8" y="315.9" font-size="14.8" text-anchor="middle" textLength="113.3" lengthAdjust="spacingAndGlyphs">X Position (mm)</text>
<text transform="translate(13,142.3) rotate(-90)" font-size="14.8" text-anchor="middle">Y Position (mm)</text>
<text x="42" y="385.0" font-size="13.3" text-anchor="end">100</text>
<text x="42" y="435.1" font-size="13.3" text-anchor="end">50</text>
<text x="42" y="485.1" font-size="13.3" text-anchor="end">0</text>
<text x="42" y="535.1" font-size="13.3" text-anchor="end">-50</text>
<text x="42" y="585.2" font-size="13.3" text-anchor="end">-100</text>
<text x="84.4" y="636.7" font-size="13.3" text-anchor="middle">-100</text>
<text x="134.0" y="636.7" font-size="13.3" text-anchor="middle">-50</text>
<text x="188" y="635.2" font-size="13.3" text-anchor="middle">0</text>
<text x="239.7" y="636.7" font-size="13.3" text-anchor="middle">50</text>
<text x="288.3" y="636.7" font-size="13.3" text-anchor="middle">100</text>
<text x="194.8" y="652.1" font-size="14.8" text-anchor="middle" textLength="112.8" lengthAdjust="spacingAndGlyphs">X Position (mm)</text>
<text transform="translate(13,478.8) rotate(-90)" font-size="14.8" text-anchor="middle">Y Position (mm)</text>
<text x="449" y="33.55000000000001" font-size="13.3" text-anchor="end">30</text>
<text x="449" y="73.75000000000001" font-size="13.3" text-anchor="end">20</text>
<text x="449" y="113.95000000000002" font-size="13.3" text-anchor="end">10</text>
<text x="449" y="154.15" font-size="13.3" text-anchor="end">0</text>
<text x="449" y="194.35" font-size="13.3" text-anchor="end">-10</text>
<text x="449" y="234.55" font-size="13.3" text-anchor="end">-20</text>
<text x="449" y="274.75" font-size="13.3" text-anchor="end">-30</text>
<text x="472.4" y="305.4" font-size="13.3" text-anchor="middle">-30</text>
<text x="512.4" y="305.4" font-size="13.3" text-anchor="middle">-20</text>
<text x="548" y="304.1" font-size="13.3" text-anchor="middle">-10</text>
<text x="590" y="305.4" font-size="13.3" text-anchor="middle">0</text>
<text x="629.1" y="305.4" font-size="13.3" text-anchor="middle">10</text>
<text x="668.3" y="305.4" font-size="13.3" text-anchor="middle">20</text>
<text x="707.7" y="305.4" font-size="13.3" text-anchor="middle">30</text>
<text x="596.5" y="321.7" font-size="14.8" text-anchor="middle" textLength="110.7" lengthAdjust="spacingAndGlyphs">X Position (mm)</text>
<text transform="translate(419.4,155.2) rotate(-90)" font-size="14.8" text-anchor="middle">Y Position (mm)</text>
<text x="451.2" y="364.85" font-size="13.3" text-anchor="end">30</text>
<text x="451.2" y="405.45" font-size="13.3" text-anchor="end">20</text>
<text x="451.2" y="446.04999999999995" font-size="13.3" text-anchor="end">10</text>
<text x="451.2" y="486.65" font-size="13.3" text-anchor="end">0</text>
<text x="451.2" y="527.25" font-size="13.3" text-anchor="end">-10</text>
<text x="451.2" y="567.8499999999999" font-size="13.3" text-anchor="end">-20</text>
<text x="451.2" y="608.4499999999999" font-size="13.3" text-anchor="end">-30</text>
<text x="475.8" y="636.6" font-size="13.3" text-anchor="middle">-30</text>
<text x="515.2" y="636.6" font-size="13.3" text-anchor="middle">-20</text>
<text x="551.2" y="635.2" font-size="13.3" text-anchor="middle">-10</text>
<text x="593.8" y="636.6" font-size="13.3" text-anchor="middle">0</text>
<text x="632.3" y="636.6" font-size="13.3" text-anchor="middle">10</text>
<text x="671.2" y="636.6" font-size="13.3" text-anchor="middle">20</text>
<text x="710.7" y="636.6" font-size="13.3" text-anchor="middle">30</text>
<text x="599" y="654.4" font-size="14.8" text-anchor="middle" textLength="109.5" lengthAdjust="spacingAndGlyphs">X Position (mm)</text>
<text transform="translate(422.7,486.6) rotate(-90)" font-size="14.8" text-anchor="middle">Y Position (mm)</text>
<text x="371.0" y="287.3" font-size="13.3" text-anchor="start">0</text>
<text x="371.0" y="256.6" font-size="13.3" text-anchor="start">2</text>
<text x="371.0" y="221.1" font-size="13.3" text-anchor="start">4</text>
<text x="371.0" y="185.6" font-size="13.3" text-anchor="start">6</text>
<text x="371.0" y="150.2" font-size="13.3" text-anchor="start">8</text>
<text x="371.0" y="114.7" font-size="13.3" text-anchor="start">10</text>
<text x="371.0" y="79.3" font-size="13.3" text-anchor="start">12</text>
<text x="371.0" y="43.8" font-size="13.3" text-anchor="start">14</text>
<text x="371.0" y="10.2" font-size="13.3" text-anchor="start">16</text>
<text x="371.0" y="623.4" font-size="13.3" text-anchor="start">0</text>
<text x="371.0" y="592.6" font-size="13.3" text-anchor="start">2</text>
<text x="371.0" y="557.3" font-size="13.3" text-anchor="start">4</text>
<text x="371.0" y="522.0" font-size="13.3" text-anchor="start">6</text>
<text x="371.0" y="486.7" font-size="13.3" text-anchor="start">8</text>
<text x="371.0" y="451.4" font-size="13.3" text-anchor="start">10</text>
<text x="371.0" y="416.1" font-size="13.3" text-anchor="start">12</text>
<text x="371.0" y="380.8" font-size="13.3" text-anchor="start">14</text>
<text x="371.0" y="348.4" font-size="13.3" text-anchor="start">16</text>
<text x="765.8" y="292.9" font-size="13.3" text-anchor="start">0</text>
<text x="765.8" y="260.7" font-size="13.3" text-anchor="start">2</text>
<text x="765.8" y="225.3" font-size="13.3" text-anchor="start">4</text>
<text x="765.8" y="189.9" font-size="13.3" text-anchor="start">6</text>
<text x="765.8" y="154.6" font-size="13.3" text-anchor="start">8</text>
<text x="765.8" y="119.2" font-size="13.3" text-anchor="start">10</text>
<text x="765.8" y="83.9" font-size="13.3" text-anchor="start">12</text>
<text x="765.8" y="48.5" font-size="13.3" text-anchor="start">14</text>
<text x="765.8" y="16.2" font-size="13.3" text-anchor="start">16</text>
<text x="769.0" y="627.5" font-size="13.3" text-anchor="start">0</text>
<text x="769.0" y="594.9" font-size="13.3" text-anchor="start">2</text>
<text x="769.0" y="559.1" font-size="13.3" text-anchor="start">4</text>
<text x="769.0" y="523.3" font-size="13.3" text-anchor="start">6</text>
<text x="769.0" y="487.5" font-size="13.3" text-anchor="start">8</text>
<text x="769.0" y="451.8" font-size="13.3" text-anchor="start">10</text>
<text x="769.0" y="416.0" font-size="13.3" text-anchor="start">12</text>
<text x="769.0" y="380.2" font-size="13.3" text-anchor="start">14</text>
<text x="769.0" y="347.0" font-size="13.3" text-anchor="start">16</text>
</svg></body></html>
